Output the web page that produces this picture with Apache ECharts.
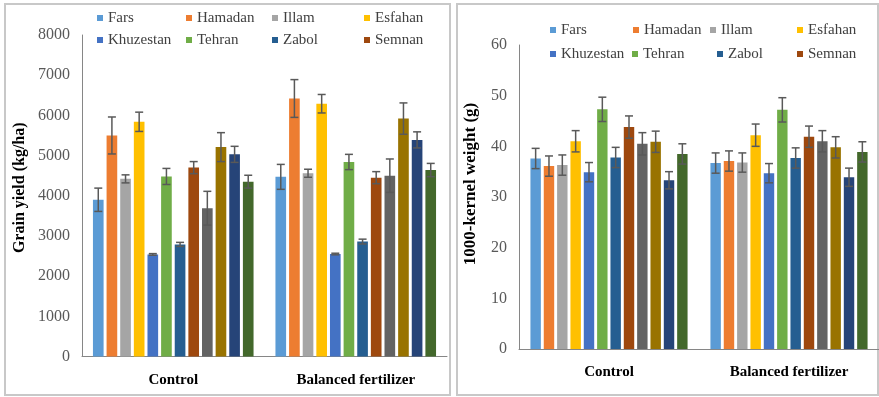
<!DOCTYPE html>
<html>
<head>
<meta charset="utf-8">
<script src="https://cdn.jsdelivr.net/npm/echarts@6/dist/echarts.min.js"></script>
<style>
html,body{margin:0;padding:0;background:#fff;}
#chart{width:879px;height:397px;}
</style>
</head>
<body>
<div id="chart"></div>
<script>
var categories = ['Control', 'Balanced fertilizer'];
var seriesNames = ['Fars','Hamadan','Illam','Esfahan','Khuzestan','Tehran','Zabol','Semnan','Series 9','Series 10','Series 11','Series 12'];
var legendNames = ['Fars','Hamadan','Illam','Esfahan','Khuzestan','Tehran','Zabol','Semnan'];
var colors = ['#5B9BD5','#ED7D31','#A5A5A5','#FFC000','#4472C4','#70AD47','#255E91','#9E480E','#636363','#997300','#264478','#43682B'];

// Grain yield (kg/ha)
var yieldControl     = [3900, 5500, 4420, 5840, 2540, 4480, 2790, 4700, 3690, 5210, 5030, 4350];
var yieldBalanced    = [4470, 6420, 4560, 6290, 2550, 4840, 2860, 4450, 4500, 5920, 5390, 4640];
var yieldErrControl  = [290, 460, 100, 240, 20, 200, 50, 150, 420, 360, 200, 160];
var yieldErrBalanced = [310, 470, 100, 230, 20, 190, 60, 150, 415, 390, 200, 165];

// 1000-kernel weight (g)
var kernelControl     = [37.6, 36.1, 36.3, 41.0, 34.9, 47.3, 37.8, 43.8, 40.5, 40.9, 33.3, 38.5];
var kernelBalanced    = [36.7, 37.1, 36.8, 42.2, 34.7, 47.2, 37.7, 41.9, 41.0, 39.8, 33.9, 38.9];
var kernelErrControl  = [2.0, 2.0, 2.0, 2.1, 1.9, 2.4, 2.0, 2.2, 2.2, 2.1, 1.7, 2.0];
var kernelErrBalanced = [2.0, 2.0, 1.9, 2.2, 1.9, 2.4, 2.0, 2.1, 2.1, 2.1, 1.8, 2.0];

var SERIF = 'Liberation Serif, Times New Roman, serif';
var CAT_GAP = [0.12, 0.127];
var BAR_GAP = 0.28;

function errRenderer(catGap) {
  return function (params, api) {
    var n = seriesNames.length;
    var cat = api.value(0), s = api.value(1), v = api.value(2), e = api.value(3);
    var catW = api.size([1, 0])[0];
    var used = catW * (1 - catGap);
    var bw = used / (n + (n - 1) * BAR_GAP);
    var cx = api.coord([cat, 0])[0] - used / 2 + s * bw * (1 + BAR_GAP) + bw / 2;
    var yt = api.coord([cat, v + e])[1];
    var yb = api.coord([cat, v - e])[1];
    var hw = 4;
    var st = {stroke: '#595959', lineWidth: 1.5};
    return {
      type: 'group',
      children: [
        {type: 'line', shape: {x1: cx, y1: yt, x2: cx, y2: yb}, style: st},
        {type: 'line', shape: {x1: cx - hw, y1: yt, x2: cx + hw, y2: yt}, style: st},
        {type: 'line', shape: {x1: cx - hw, y1: yb, x2: cx + hw, y2: yb}, style: st}
      ]
    };
  };
}

var series = [];
var errData0 = [], errData1 = [];
for (var i = 0; i < seriesNames.length; i++) {
  series.push({
    type: 'bar', name: seriesNames[i], xAxisIndex: 0, yAxisIndex: 0,
    data: [yieldControl[i], yieldBalanced[i]],
    itemStyle: {color: colors[i]},
    barCategoryGap: '12%', barGap: '28%', animation: false
  });
  series.push({
    type: 'bar', name: seriesNames[i], xAxisIndex: 1, yAxisIndex: 1,
    data: [kernelControl[i], kernelBalanced[i]],
    itemStyle: {color: colors[i]},
    barCategoryGap: '12.7%', barGap: '28%', animation: false
  });
  errData0.push([0, i, yieldControl[i], yieldErrControl[i]]);
  errData0.push([1, i, yieldBalanced[i], yieldErrBalanced[i]]);
  errData1.push([0, i, kernelControl[i], kernelErrControl[i]]);
  errData1.push([1, i, kernelBalanced[i], kernelErrBalanced[i]]);
}
series.push({type: 'custom', xAxisIndex: 0, yAxisIndex: 0, renderItem: errRenderer(CAT_GAP[0]),
  data: errData0, encode: {x: 0, y: 2}, z: 10, silent: true, animation: false});
series.push({type: 'custom', xAxisIndex: 1, yAxisIndex: 1, renderItem: errRenderer(CAT_GAP[1]),
  data: errData1, encode: {x: 0, y: 2}, z: 10, silent: true, animation: false});

// legend placement (one legend per item)
var legPos = [
  {x: [97, 186, 272, 364, 97, 186, 272, 364], y: [18, 18, 18, 18, 40, 40, 40, 40]},
  {x: [550, 633, 710, 797, 550, 632, 717, 797], y: [30, 30, 30, 30, 54, 54, 54, 54]}
];
var legends = [];
legPos.forEach(function (p) {
  for (var k = 0; k < legendNames.length; k++) {
    legends.push({
      data: [legendNames[k]], left: p.x[k], top: p.y[k] - 9, padding: 0,
      icon: 'rect', itemWidth: 6, itemHeight: 6, itemGap: 0,
      textStyle: {fontFamily: SERIF, fontSize: 15, color: '#404040', lineHeight: 18, padding: [0, 0, 0, 0]}
    });
  }
});

function xAx(idx) {
  return {
    type: 'category', gridIndex: idx, data: categories,
    axisLine: {lineStyle: {color: '#868686', width: 1}},
    axisTick: {show: false},
    axisLabel: {fontFamily: SERIF, fontSize: 15, fontWeight: 'bold', color: '#000', margin: 16}
  };
}
function yAx(idx, max, interval, name, gap, pad, nameSize) {
  return {
    type: 'value', gridIndex: idx, min: 0, max: max, interval: interval,
    name: name, nameLocation: 'middle', nameGap: gap,
    nameTextStyle: {fontFamily: SERIF, fontSize: nameSize, fontWeight: 'bold', color: '#000', padding: pad},
    axisLine: {show: true, lineStyle: {color: '#868686', width: 1}},
    axisTick: {show: false},
    splitLine: {show: false},
    axisLabel: {fontFamily: SERIF, fontSize: 16, color: '#595959', margin: 12,
      formatter: function (v) { return String(v); }}
  };
}

var option = {
  animation: false,
  backgroundColor: '#fff',
  grid: [
    {left: 82, right: 432, top: 35, bottom: 40.5},
    {left: 519, right: -2, top: 45, bottom: 48}
  ],
  xAxis: [xAx(0), xAx(1)],
  yAxis: [
    yAx(0, 8000, 1000, 'Grain yield (kg/ha)', 54, [0, 0, 0, 16], 16),
    yAx(1, 60, 10, '1000-kernel weight (g)', 40, [0, 0, 0, 26], 17)
  ],
  legend: legends,
  graphic: [
    {type: 'rect', shape: {x: 5, y: 4, width: 445, height: 391}, style: {fill: 'none', stroke: '#c8c8c8', lineWidth: 2}, z: -10},
    {type: 'rect', shape: {x: 457, y: 4, width: 421, height: 391}, style: {fill: 'none', stroke: '#c8c8c8', lineWidth: 2}, z: -10}
  ],
  series: series
};

var chart = echarts.init(document.getElementById('chart'), null, {renderer: 'canvas'});
chart.setOption(option);
</script>
</body>
</html>
